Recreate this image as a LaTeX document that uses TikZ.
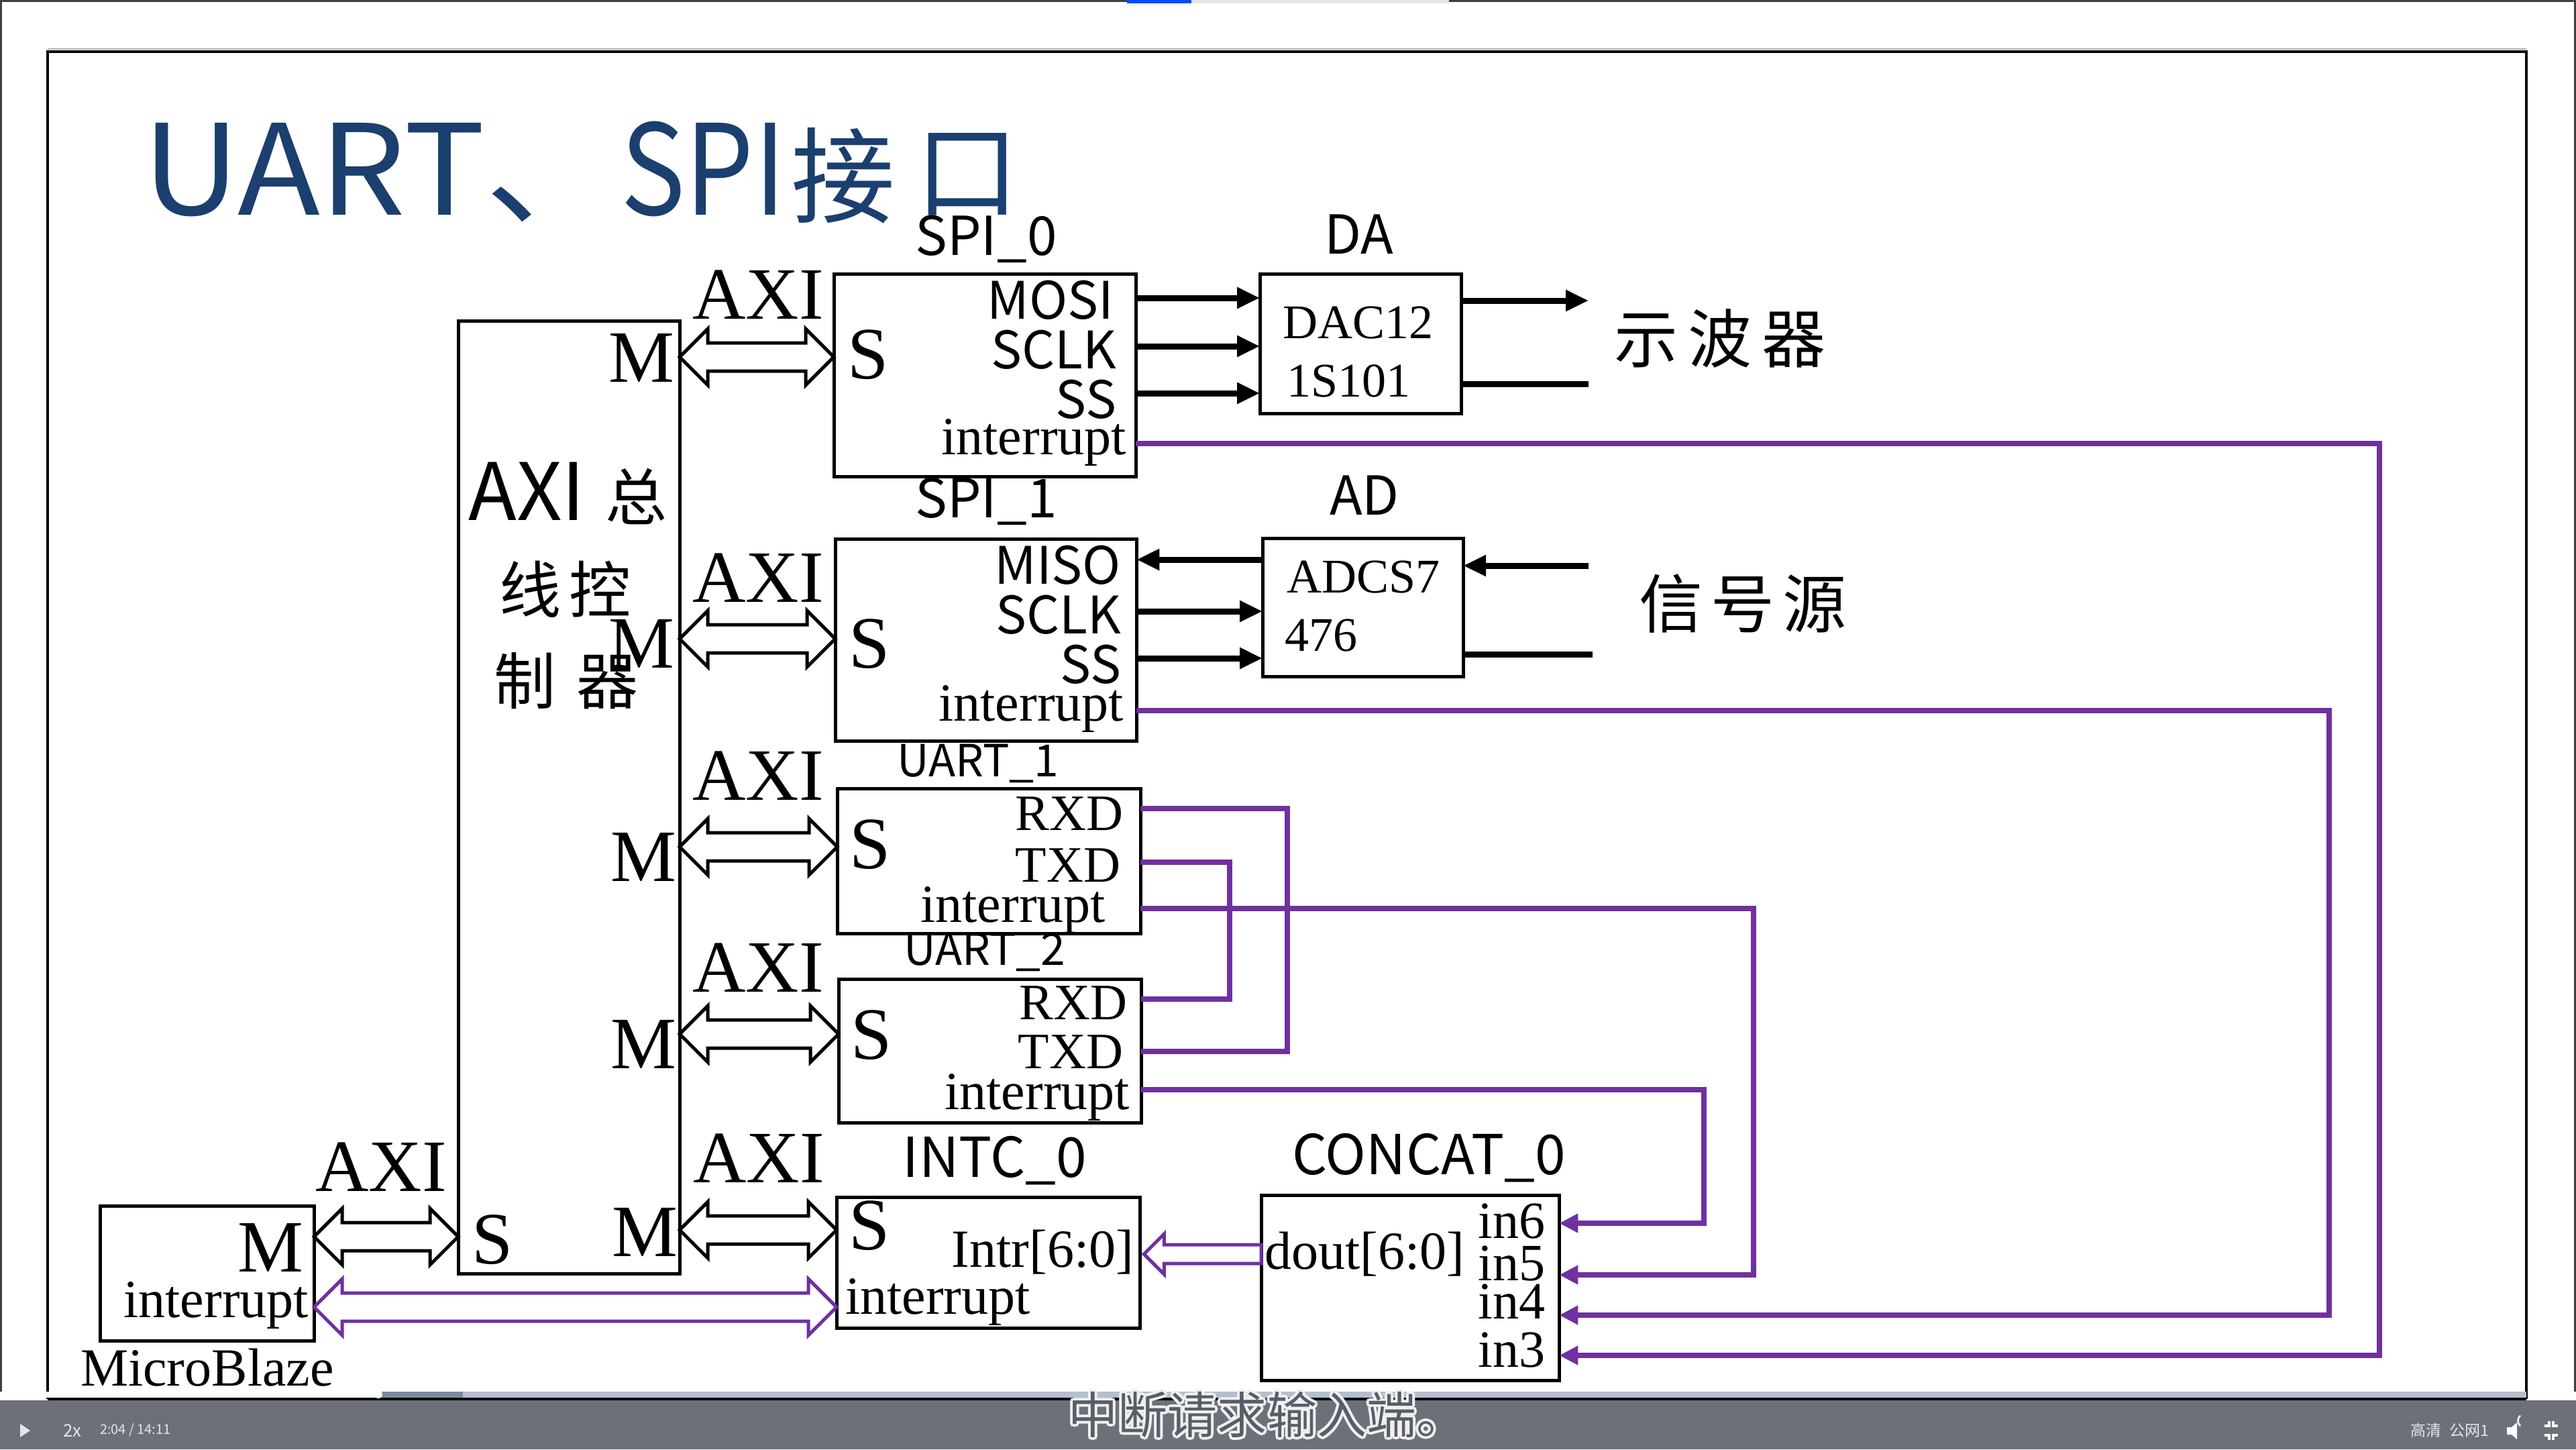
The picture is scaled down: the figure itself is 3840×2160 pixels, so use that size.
\documentclass[tikz,border=0pt]{standalone}
\usepackage{graphicx}
\usepackage{fontspec}
\setmainfont{Liberation Serif}
\newfontfamily\cjk{Noto Sans CJK SC}
\newfontfamily\cjkw{Noto Sans CJK SC}[FakeStretch=1.08]
\usetikzlibrary{calc,arrows.meta}
\definecolor{ttl}{RGB}{27,63,110}
\definecolor{pur}{RGB}{112,48,160}
\definecolor{barc}{RGB}{107,112,121}
\definecolor{progd}{RGB}{123,138,163}
\definecolor{progl}{RGB}{180,191,206}
\definecolor{subc}{RGB}{88,94,104}
\newcommand\fsz[1]{\fontsize{#1}{#1}\selectfont}
% hollow double arrow between two points at the same height
\newcommand\hdarrow[3]{%
  \draw[#1] (#2) -- ++(42,-42) -- ++(0,21) -- ($(#3)+(-42,-21)$) -- ++(0,-21) -- (#3)
    -- ++(-42,42) -- ++(0,-21) -- ($(#2)+(42,21)$) -- ++(0,21) -- cycle;}
\begin{document}
\begin{tikzpicture}[x=0.01cm,y=-0.01cm,
  box/.style={draw,line width=0.05cm,inner sep=0pt,outer sep=0pt,anchor=north west},
  lbl/.style={inner sep=0pt,outer sep=0pt},
  big/.style={lbl,font=\fsz{1.10cm}},
  irqtxt/.style={lbl,font=\fsz{0.80cm}},
  uartpin/.style={lbl,font=\fsz{0.76cm}},
  spipin/.style={lbl,font=\cjk\fsz{0.77cm}},
  blocklbl/.style={lbl,font=\cjk\fsz{0.80cm}},
  chip/.style={lbl,font=\fsz{0.72cm}},
  zh/.style={lbl,font=\cjk\fsz{0.95cm}},
  sig/.style={line width=0.09cm},
  sigarr/.style={sig,-{Triangle[length=0.34cm,width=0.30cm]}},
  irq/.style={draw=pur,line width=0.08cm},
  irqarr/.style={irq,-{Triangle[length=0.28cm,width=0.27cm]}},
  hollow/.style={line width=0.05cm,line join=miter},
]
\fill[white] (0,0) rectangle (3840,2160);
\useasboundingbox (0,0) rectangle (3840,2160);

% screen and slide frame
\fill[black!75] (0,0) rectangle (3840,3);
\fill[blue!70!cyan] (1680,0) rectangle (1776,5);
\fill[gray!20] (1776,0) rectangle (2160,5);
\draw[line width=0.03cm,black!75] (1,0) -- (1,2074);
\draw[line width=0.03cm,black!75] (3838,0) -- (3838,2074);
\draw[gray!60,line width=0.025cm] (71,73) -- (3766,73);
\draw[line width=0.035cm] (71,2085) -- (71,77) -- (3766,77) -- (3766,2085);

% title
\node[lbl,anchor=base west,text=ttl,font=\cjkw\fsz{1.87cm}] (title) at (212,320)
  {UART、\scalebox{0.8}[1]{SPI}{\cjk\fsz{1.55cm}\hspace{0.08cm}接\hspace{0.3cm}\raisebox{0.08cm}{口}}};

% blocks
\node[box,minimum width=3.30cm,minimum height=14.20cm] (ctrl) at (683,478) {};
\node[box,minimum width=4.50cm,minimum height=3.02cm] (spi0) at (1243,408) {};
\node[box,minimum width=4.49cm,minimum height=3.01cm] (spi1) at (1245,803) {};
\node[box,minimum width=4.52cm,minimum height=2.16cm] (uart1) at (1248,1175) {};
\node[box,minimum width=4.51cm,minimum height=2.14cm] (uart2) at (1250,1459) {};
\node[box,minimum width=4.52cm,minimum height=1.95cm] (intc) at (1247,1784) {};
\node[box,minimum width=4.44cm,minimum height=2.76cm] (concat) at (1880,1781) {};
\node[box,minimum width=3.00cm,minimum height=2.08cm] (da) at (1878,408) {};
\node[box,minimum width=2.99cm,minimum height=2.06cm] (ad) at (1882,802) {};
\node[box,minimum width=3.19cm,minimum height=2.01cm] (mb) at (149,1797) {};

% controller text
\node[lbl,anchor=base west,font=\cjk\fsz{1.18cm}] (c1) at (698,775) {AXI\hspace{0.3cm}{\fsz{0.92cm}总}};
\node[lbl,font=\cjk\fsz{0.92cm}] (c2) at (843,878) {线\hspace{0.12cm}控};
\node[lbl,font=\cjk\fsz{0.92cm}] (c3) at (844,1015) {制\hspace{0.3cm}器};
\node[big,anchor=base west] (cs) at (703,1883) {S};
\node[big,anchor=base east] (m1) at (1005,569) {M};
\node[big,anchor=base east] (m2) at (1005,995) {M};
\node[big,anchor=base east] (m3) at (1008,1313) {M};
\node[big,anchor=base east] (m4) at (1008,1592) {M};
\node[big,anchor=base east] (m5) at (1010,1872) {M};

% AXI labels
\node[big,anchor=base] (x1) at (1130,475) {AXI};
\node[big,anchor=base] (x2) at (1130,897) {AXI};
\node[big,anchor=base] (x3) at (1130,1192) {AXI};
\node[big,anchor=base] (x4) at (1130,1478) {AXI};
\node[big,anchor=base] (x5) at (1131,1762) {AXI};
\node[big,anchor=base] (x6) at (568,1775) {AXI};

% block names
\node[blocklbl,anchor=base] (n-spi0) at (1470,380) {SPI\_0};
\node[blocklbl,anchor=base] (n-spi1) at (1470,771) {SPI\_1};
\node[blocklbl,anchor=base] (n-da) at (2026,378) {DA};
\node[blocklbl,anchor=base] (n-ad) at (2034,767) {AD};
\node[blocklbl,anchor=base,font=\cjk\fsz{0.66cm}] (n-u1) at (1458,1157) {UART\_1};
\node[blocklbl,anchor=base,font=\cjk\fsz{0.66cm}] (n-u2) at (1468,1438) {UART\_2};
\node[blocklbl,anchor=base,font=\cjk\fsz{0.82cm}] (n-intc) at (1483,1754) {INTC\_0};
\node[blocklbl,anchor=base,font=\cjk\fsz{0.82cm}] (n-concat) at (2130,1750) {CONCAT\_0};

% SPI_0 pins
\node[big,anchor=base west] (s1) at (1263,564) {S};
\node[spipin,anchor=base east] (p-mosi) at (1660,475) {MOSI};
\node[spipin,anchor=base east] (p-sclk0) at (1664,549) {SCLK};
\node[spipin,anchor=base east] (p-ss0) at (1664,623) {SS};
\node[irqtxt,anchor=base east] (p-int0) at (1679,677) {interrupt};
% SPI_1 pins
\node[big,anchor=base west] (s2) at (1265,995) {S};
\node[spipin,anchor=base east] (p-miso) at (1671,870) {MISO};
\node[spipin,anchor=base east] (p-sclk1) at (1671,944) {SCLK};
\node[spipin,anchor=base east] (p-ss1) at (1671,1018) {SS};
\node[irqtxt,anchor=base east] (p-int1) at (1675,1074) {interrupt};
% UART_1 pins
\node[big,anchor=base west] (s3) at (1266,1294) {S};
\node[uartpin,anchor=base east] (p-rx1) at (1674,1237) {RXD};
\node[uartpin,anchor=base east] (p-tx1) at (1670,1314) {TXD};
\node[irqtxt,anchor=base east] (p-int2) at (1648,1374) {interrupt};
% UART_2 pins
\node[big,anchor=base west] (s4) at (1268,1578) {S};
\node[uartpin,anchor=base east] (p-rx2) at (1680,1519) {RXD};
\node[uartpin,anchor=base east] (p-tx2) at (1674,1592) {TXD};
\node[irqtxt,anchor=base east] (p-int3) at (1684,1653) {interrupt};
% INTC pins
\node[big,anchor=base west] (s5) at (1265,1862) {S};
\node[irqtxt,anchor=base east] (p-intr) at (1690,1888) {Intr[6:0]};
\node[irqtxt,anchor=base west] (p-intci) at (1260,1958) {interrupt};
% CONCAT pins
\node[irqtxt,anchor=base west] (p-dout) at (1885,1891) {dout[6:0]};
\node[irqtxt,anchor=base east,font=\fsz{0.78cm}] (p-in6) at (2303,1845) {in6};
\node[irqtxt,anchor=base east,font=\fsz{0.78cm}] (p-in5) at (2303,1908) {in5};
\node[irqtxt,anchor=base east,font=\fsz{0.78cm}] (p-in4) at (2303,1965) {in4};
\node[irqtxt,anchor=base east,font=\fsz{0.78cm}] (p-in3) at (2303,2037) {in3};
% MicroBlaze
\node[big,anchor=base east] (mbm) at (452,1895) {M};
\node[irqtxt,anchor=base east] (mbi) at (460,1963) {interrupt};
\node[irqtxt,anchor=base west] (mbn) at (120,2065) {MicroBlaze};
% chips
\node[chip,anchor=base west] (dac1) at (1912,504) {DAC12};
\node[chip,anchor=base west] (dac2) at (1918,591) {1S101};
\node[chip,anchor=base west] (adc1) at (1918,883) {ADCS7};
\node[chip,anchor=base west] (adc2) at (1915,970) {476};
\node[zh] (osc) at (2564,504) {示\hspace{0.15cm}波\hspace{0.15cm}器};
\node[zh] (src) at (2598,900) {信\hspace{0.12cm}号\hspace{0.12cm}源};

% AXI bus arrows
\coordinate (a1r) at (spi0.west |- 0,532);  \coordinate (a1l) at (ctrl.east |- a1r);
\coordinate (a2r) at (spi1.west |- 0,952);  \coordinate (a2l) at (ctrl.east |- a2r);
\coordinate (a3r) at (uart1.west |- 0,1262); \coordinate (a3l) at (ctrl.east |- a3r);
\coordinate (a4r) at (uart2.west |- 0,1541); \coordinate (a4l) at (ctrl.east |- a4r);
\coordinate (a5r) at (intc.west |- 0,1833);  \coordinate (a5l) at (ctrl.east |- a5r);
\coordinate (a6l) at (mb.east |- 0,1843);    \coordinate (a6r) at (ctrl.west |- a6l);
\hdarrow{hollow}{a1l}{a1r}
\hdarrow{hollow}{a2l}{a2r}
\hdarrow{hollow}{a3l}{a3r}
\hdarrow{hollow}{a4l}{a4r}
\hdarrow{hollow}{a5l}{a5r}
\hdarrow{hollow}{a6l}{a6r}
% interrupt bus MicroBlaze <-> INTC
\coordinate (pbl) at (mb.east |- 0,1948); \coordinate (pbr) at (intc.west |- pbl);
\hdarrow{hollow,draw=pur}{pbl}{pbr}
% dout -> Intr
\coordinate (cd) at (concat.west |- 0,1869); \coordinate (ci) at ($(intc.east |- cd)+(6,0)$);
\draw[hollow,draw=pur] (ci) -- ++(30,-30) -- ++(0,16) -- ($(cd)+(0,-14)$) -- ++(0,28)
  -- ($(ci)+(30,14)$) -- ++(0,16) -- cycle;

% SPI_0 -> DA
\coordinate (q1) at (spi0.east |- 0,444); \draw[sigarr] (q1) -- (q1 -| da.west);
\coordinate (q2) at (spi0.east |- 0,516); \draw[sigarr] (q2) -- (q2 -| da.west);
\coordinate (q3) at (spi0.east |- 0,586); \draw[sigarr] (q3) -- (q3 -| da.west);
\coordinate (osc1) at (2368,448); \draw[sigarr] (da.east |- osc1) -- (osc1);
\coordinate (osc2) at (2368,572); \draw[sig] (da.east |- osc2) -- (osc2);
% AD <-> SPI_1
\coordinate (q4) at (ad.west |- 0,834); \draw[sigarr] (q4) -- (q4 -| spi1.east);
\coordinate (q5) at (spi1.east |- 0,911); \draw[sigarr] (q5) -- (q5 -| ad.west);
\coordinate (q6) at (spi1.east |- 0,981); \draw[sigarr] (q6) -- (q6 -| ad.west);
\coordinate (src1) at (2368,843); \draw[sigarr] (src1) -- (src1 -| ad.east);
\coordinate (src2) at (2374,975); \draw[sig] (ad.east |- src2) -- (src2);

% interrupts -> CONCAT
\coordinate (i0) at (spi0.east |- 0,661);  \coordinate (r0) at (3547,661);
\coordinate (i1) at (spi1.east |- 0,1059); \coordinate (r1) at (3472,1059);
\coordinate (i2) at (uart1.east |- 0,1354); \coordinate (r2) at (2614,1354);
\coordinate (i3) at (uart2.east |- 0,1624); \coordinate (r3) at (2540,1624);
\coordinate (k3) at (concat.east |- 0,2020);
\coordinate (k4) at (concat.east |- 0,1960);
\coordinate (k5) at (concat.east |- 0,1900);
\coordinate (k6) at (concat.east |- 0,1823);
\draw[irqarr] (i0) -- (r0) |- (k3);
\draw[irqarr] (i1) -- (r1) |- (k4);
\draw[irqarr] (i2) -- (r2) |- (k5);
\draw[irqarr] (i3) -- (r3) |- (k6);
% UART loopback
\coordinate (rx1) at (uart1.east |- 0,1205); \coordinate (b1) at (1919,1205);
\coordinate (tx2) at (uart2.east |- 0,1567);
\draw[irq] (rx1) -- (b1) |- (tx2);
\coordinate (tx1) at (uart1.east |- 0,1285); \coordinate (b2) at (1833,1285);
\coordinate (rx2) at (uart2.east |- 0,1489);
\draw[irq] (tx1) -- (b2) |- (rx2);

% player bar
\fill[barc] (0,2087) rectangle (3840,2160);
\fill[white] (0,2074) rectangle (564,2083);
\fill[progd] (564,2074) rectangle (690,2083);
\fill[progl] (690,2074) rectangle (3766,2083);
\fill[black] (71,2083) rectangle (3766,2087);
\fill[white] (564,2078) circle (6);
\fill[white!90!black] (30,2122) -- (30,2142) -- (45,2132) -- cycle;
\node[lbl,anchor=west,text=white!90!black,font=\cjk\fsz{0.26cm}] (spd) at (94,2132) {2x};
\node[lbl,anchor=west,text=white!90!black,font=\cjk\fsz{0.20cm}] (tim) at (149,2131) {2:04 / 14:11};
\node[lbl,anchor=west,text=white!80!gray,font=\cjk\fsz{0.23cm}] (hd) at (3593,2132) {高清\hspace{0.12cm}公网1};
\fill[white] (3737,2127) rectangle (3744,2138) (3744,2127) -- (3752,2120) -- (3752,2145) -- (3744,2138) -- cycle;
\draw[white,line width=0.025cm] (3757,2125) arc (-50:50:-10);
\draw[white,line width=0.04cm] (3793,2125) -- (3800,2125) -- (3800,2118)
  (3806,2118) -- (3806,2125) -- (3813,2125)
  (3793,2139) -- (3800,2139) -- (3800,2146)
  (3806,2146) -- (3806,2139) -- (3813,2139);

% subtitle
\coordinate (subp) at (1889,2108);
\foreach \i/\dx/\dy in {1/-4/0,2/4/0,3/0/-4,4/0/4,5/-3/-3,6/3/3,7/-3/3,8/3/-3}
  \node[lbl,font=\cjk\fsz{0.74cm},text=white!88!gray] (subo\i) at ($(subp)+(\dx,\dy)$) {中断请求输入端。};
\node[lbl,font=\cjk\fsz{0.74cm},text=subc] (sub) at (subp) {中断请求输入端。};
\end{tikzpicture}
\end{document}
